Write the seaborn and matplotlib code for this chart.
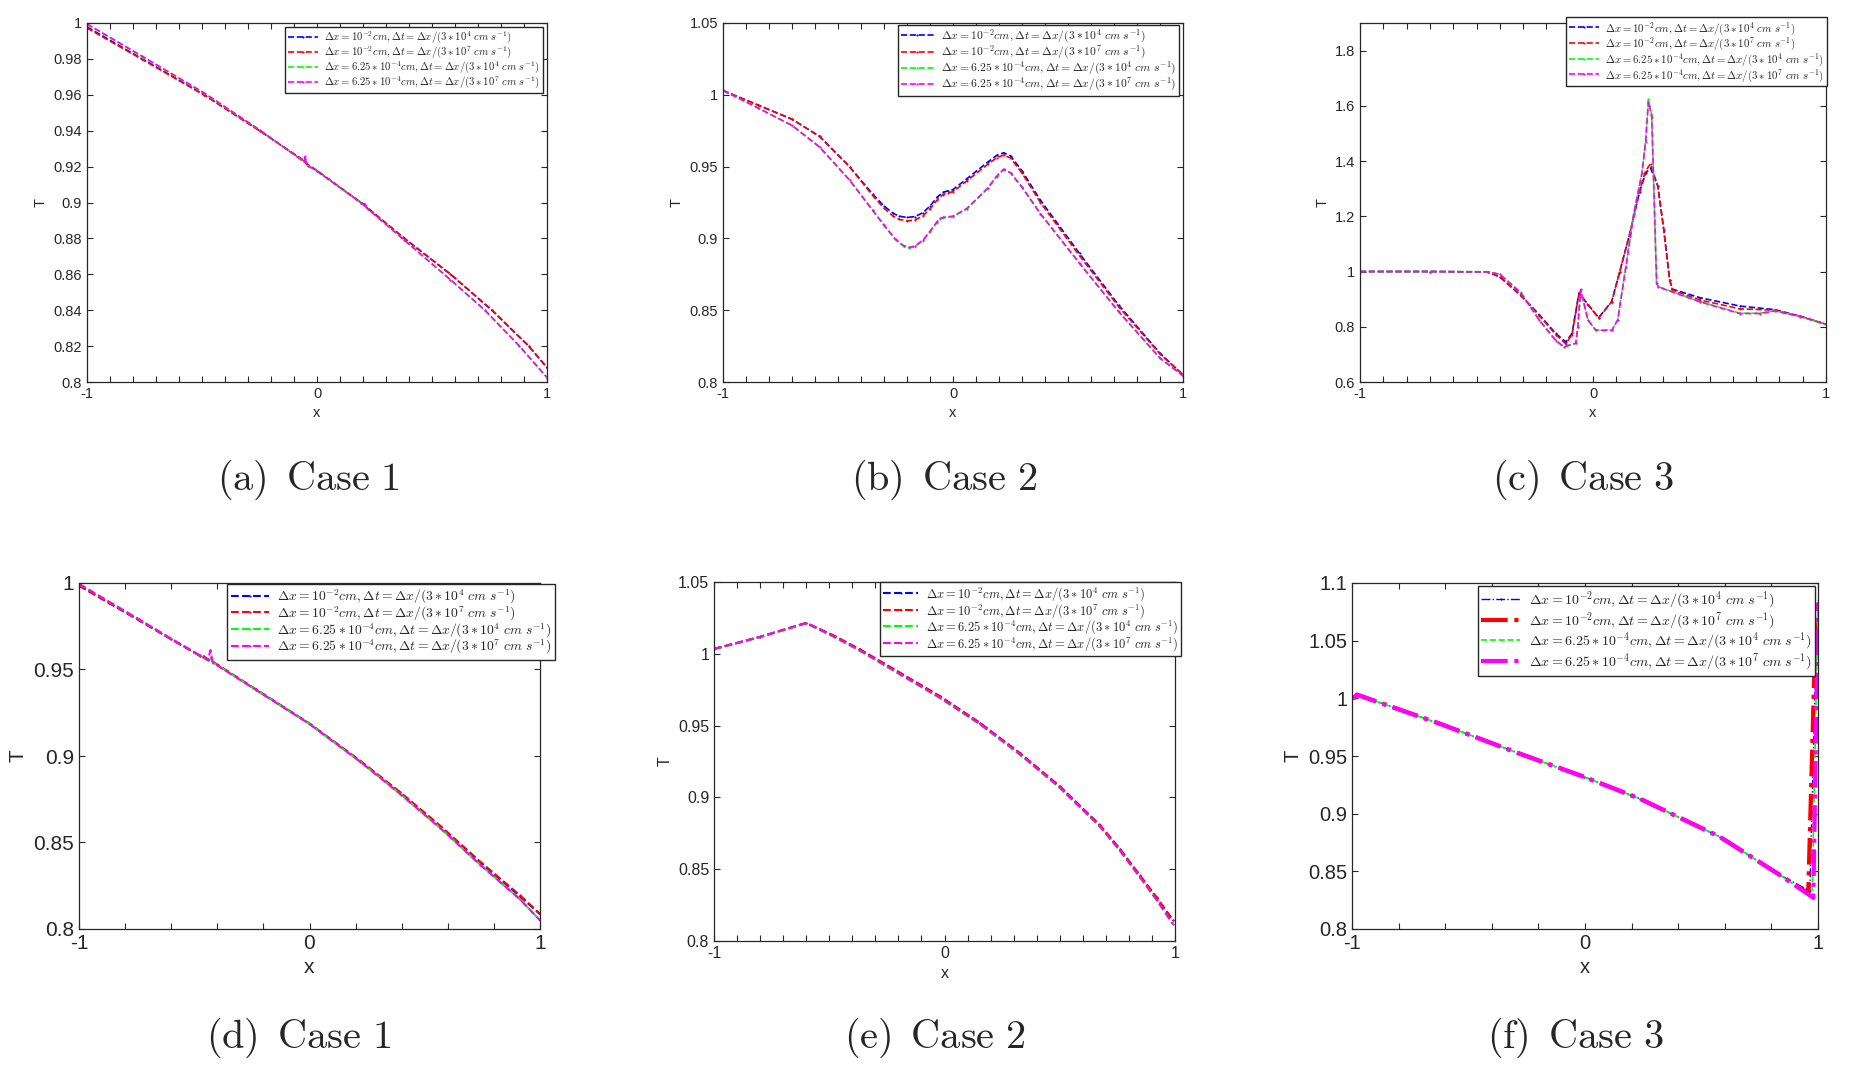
import numpy as np
import pandas as pd
import matplotlib
matplotlib.use("Agg")
import matplotlib.pyplot as plt
from matplotlib.ticker import MultipleLocator, FuncFormatter
import seaborn as sns

# ---- data ----
# (a) case 1, top row
xa_coarse = [-1, -0.76, -0.49, -0.25, -0.07, -0.055, -0.045, 0.0, 0.19, 0.205, 0.215, 0.38, 0.58, 0.76, 0.92, 1.0]
Ta_blue = [0.9978, 0.9800, 0.9600, 0.9400, 0.9245, 0.9232, 0.9215, 0.9178, 0.9000, 0.8990, 0.8975, 0.8800, 0.8600, 0.8400, 0.8200, 0.8080]
Ta_red = [0.9972, 0.9797, 0.9598, 0.9400, 0.9243, 0.9230, 0.9213, 0.9177, 0.9000, 0.8988, 0.8973, 0.8800, 0.8602, 0.8402, 0.8202, 0.8082]
xa_fine = [-1, -0.76, -0.49, -0.25, -0.07, -0.055, -0.052, -0.048, -0.04, 0.0, 0.19, 0.205, 0.21, 0.22, 0.38, 0.58, 0.73, 0.88, 1.0]
Ta_green = [0.9993, 0.9813, 0.9608, 0.9404, 0.9240, 0.9230, 0.9240, 0.9225, 0.9205, 0.9175, 0.9000, 0.8985, 0.8983, 0.8965, 0.8790, 0.8570, 0.8400, 0.8200, 0.8025]
Ta_magenta = [0.9995, 0.9815, 0.9610, 0.9405, 0.9240, 0.9230, 0.9260, 0.9225, 0.9205, 0.9175, 0.9000, 0.8985, 0.8990, 0.8965, 0.8790, 0.8570, 0.8400, 0.8200, 0.8025]

# (b) case 2, top row
xb_coarse = [-1, -0.85, -0.70, -0.58, -0.45, -0.35, -0.30, -0.26, -0.235, -0.20, -0.165, -0.13, -0.10, -0.07, -0.045, -0.02, 0.0, 0.06, 0.15, 0.19, 0.22, 0.25, 0.30, 0.38, 0.55, 0.72, 0.90, 1.0]
Tb_blue = [1.003, 0.993, 0.983, 0.971, 0.950, 0.931, 0.9225, 0.9175, 0.9155, 0.9146, 0.9152, 0.9180, 0.9225, 0.9285, 0.9320, 0.9332, 0.9340, 0.9415, 0.9530, 0.9578, 0.9596, 0.9575, 0.9470, 0.9266, 0.8895, 0.8536, 0.8200, 0.8050]
Tb_red = [1.003, 0.993, 0.983, 0.971, 0.950, 0.930, 0.9210, 0.9155, 0.9133, 0.9122, 0.9128, 0.9158, 0.9205, 0.9265, 0.9305, 0.9318, 0.9325, 0.9400, 0.9515, 0.9562, 0.9580, 0.9560, 0.9455, 0.9250, 0.8880, 0.8525, 0.8195, 0.8050]
xb_fine = [-1, -0.85, -0.70, -0.58, -0.45, -0.35, -0.30, -0.25, -0.215, -0.19, -0.165, -0.13, -0.10, -0.07, -0.055, -0.045, 0.0, 0.06, 0.15, 0.19, 0.22, 0.25, 0.30, 0.38, 0.55, 0.72, 0.90, 1.0]
Tb_green = [1.003, 0.991, 0.9785, 0.9635, 0.9405, 0.9195, 0.9090, 0.8990, 0.8945, 0.8932, 0.8942, 0.8985, 0.9045, 0.9110, 0.9135, 0.9142, 0.9152, 0.9205, 0.9345, 0.9430, 0.9478, 0.9455, 0.9355, 0.9170, 0.8825, 0.8489, 0.8165, 0.8042]
Tb_magenta = [1.003, 0.991, 0.9787, 0.9637, 0.9407, 0.9198, 0.9093, 0.8994, 0.8950, 0.8937, 0.8947, 0.8990, 0.9050, 0.9115, 0.9140, 0.9146, 0.9155, 0.9208, 0.9348, 0.9434, 0.9482, 0.9458, 0.9358, 0.9173, 0.8828, 0.8491, 0.8167, 0.8043]

# (c) case 3, top row
xc_coarse = [-1, -0.7, -0.45, -0.40, -0.31, -0.23, -0.16, -0.117, -0.09, -0.06, -0.02, 0.024, 0.08, 0.115, 0.158, 0.20, 0.226, 0.247, 0.278, 0.304, 0.329, 0.341, 0.46, 0.63, 0.78, 0.89, 1.0]
Tc_blue = [1.0, 1.0, 0.998, 0.981, 0.915, 0.843, 0.776, 0.745, 0.776, 0.923, 0.879, 0.833, 0.891, 1.0, 1.138, 1.289, 1.356, 1.375, 1.31, 1.15, 0.969, 0.936, 0.905, 0.875, 0.862, 0.838, 0.809]
Tc_red = [1.0, 1.0, 0.998, 0.980, 0.913, 0.840, 0.772, 0.738, 0.772, 0.920, 0.878, 0.832, 0.890, 1.0, 1.138, 1.295, 1.365, 1.39, 1.31, 1.15, 0.969, 0.933, 0.897, 0.865, 0.860, 0.838, 0.809]
xc_fine = [-1, -0.7, -0.45, -0.40, -0.31, -0.23, -0.16, -0.125, -0.074, -0.065, -0.053, -0.022, 0.012, 0.081, 0.106, 0.141, 0.175, 0.21, 0.226, 0.238, 0.252, 0.273, 0.281, 0.46, 0.63, 0.715, 0.78, 0.89, 1.0]
Tc_green = [1.0, 1.0, 0.999, 0.99, 0.925, 0.825, 0.752, 0.728, 0.74, 0.80, 0.933, 0.825, 0.788, 0.788, 0.825, 1.018, 1.211, 1.356, 1.476, 1.623, 1.567, 0.957, 0.945, 0.891, 0.849, 0.849, 0.858, 0.837, 0.809]
Tc_magenta = [1.0, 1.0, 0.999, 0.99, 0.923, 0.823, 0.750, 0.727, 0.74, 0.80, 0.935, 0.825, 0.787, 0.787, 0.825, 1.015, 1.208, 1.356, 1.47, 1.615, 1.56, 0.957, 0.944, 0.890, 0.848, 0.848, 0.857, 0.837, 0.809]

# (d) case 1, bottom row
xd_coarse = [-1, -0.87, -0.74, -0.60, -0.476, -0.46, -0.45, -0.42, -0.233, 0.0, 0.219, 0.392, 0.566, 0.74, 0.913, 1.0]
Td_blue = [0.9985, 0.9885, 0.9785, 0.9675, 0.9580, 0.9575, 0.9562, 0.9545, 0.9385, 0.9187, 0.8972, 0.8790, 0.8595, 0.8385, 0.8190, 0.8085]
Td_red = [0.9985, 0.9885, 0.9785, 0.9675, 0.9580, 0.9580, 0.9567, 0.9545, 0.9385, 0.9187, 0.8973, 0.8792, 0.8598, 0.8390, 0.8195, 0.8088]
xd_fine = [-1, -0.87, -0.74, -0.60, -0.476, -0.44, -0.43, -0.42, -0.233, 0.0, 0.219, 0.392, 0.566, 0.74, 0.913, 1.0]
Td_green = [0.9995, 0.9892, 0.9790, 0.9678, 0.9582, 0.9555, 0.9568, 0.9543, 0.9383, 0.9185, 0.8968, 0.8782, 0.8585, 0.8372, 0.8172, 0.8050]
Td_magenta = [0.9995, 0.9892, 0.9790, 0.9678, 0.9582, 0.9555, 0.9612, 0.9540, 0.9383, 0.9185, 0.8968, 0.8782, 0.8585, 0.8372, 0.8172, 0.8050]

# (e) case 2, bottom row
xe_all = [-1, -0.80, -0.60, -0.48, -0.368, -0.194, -0.021, 0.153, 0.326, 0.50, 0.674, 0.76, 0.847, 0.92, 0.99]
Te_blue = [1.0034, 1.0118, 1.0215, 1.0125, 1.0030, 0.9867, 0.9704, 0.9518, 0.9308, 0.9075, 0.8805, 0.8640, 0.8455, 0.8300, 0.8145]
Te_red = [1.0034, 1.0118, 1.0215, 1.0127, 1.0032, 0.9869, 0.9706, 0.9520, 0.9310, 0.9078, 0.8808, 0.8644, 0.8460, 0.8305, 0.8148]
Te_green = [1.0032, 1.0116, 1.0212, 1.0117, 1.0020, 0.9855, 0.9692, 0.9508, 0.9298, 0.9065, 0.8795, 0.8630, 0.8444, 0.8285, 0.8120]
Te_magenta = [1.0033, 1.0117, 1.0213, 1.0121, 1.0025, 0.9860, 0.9697, 0.9513, 0.9303, 0.9070, 0.8799, 0.8633, 0.8447, 0.8288, 0.8120]

# (f) case 3, bottom row
xf_main = [-1, -0.99, -0.979, -0.623, -0.28, -0.005, 0.235, 0.578, 0.835]
Tf_main = [1.0, 1.0006, 1.0032, 0.978, 0.952, 0.932, 0.913, 0.880, 0.847]
xf_blue_end = [0.965, 0.99]
Tf_blue_end = [0.833, 1.03]
xf_red_end = [0.958, 0.99]
Tf_red_end = [0.831, 1.065]
xf_green_end = [0.975, 1.0]
Tf_green_end = [0.828, 1.085]
xf_magenta_end = [0.98, 1.0]
Tf_magenta_end = [0.827, 1.083]

labels = [
    r'$\Delta x = 10^{-2}cm, \Delta t = \Delta x/(3*10^4\ cm\ s^{-1})$',
    r'$\Delta x = 10^{-2}cm, \Delta t = \Delta x/(3*10^7\ cm\ s^{-1})$',
    r'$\Delta x = 6.25*10^{-4}cm, \Delta t = \Delta x/(3*10^4\ cm\ s^{-1})$',
    r'$\Delta x = 6.25*10^{-4}cm, \Delta t = \Delta x/(3*10^7\ cm\ s^{-1})$',
]
colors = ['#0000ff', '#ff0000', '#00ff00', '#ff00ff']
captions = ['(a)', '(b)', '(c)', '(d)', '(e)', '(f)']
cases = ['Case 1', 'Case 2', 'Case 3', 'Case 1', 'Case 2', 'Case 3']

sns.set_theme(style="ticks")
plt.rcParams['font.family'] = ['Liberation Sans', 'DejaVu Sans']
plt.rcParams['mathtext.fontset'] = 'cm'
plt.rcParams['axes.unicode_minus'] = False

W, H = 1852, 1084
fig = plt.figure(figsize=(W / 100, H / 100), dpi=100)


def px_axes(x0, y0, x1, y1):
    return fig.add_axes([x0 / W, 1 - y1 / H, (x1 - x0) / W, (y1 - y0) / H])


fmt = FuncFormatter(lambda v, p: f'{round(v, 4):g}')


def style_axes(ax, ylim, ystep, xminor, fs):
    ax.set_xlim(-1, 1)
    ax.set_ylim(*ylim)
    ax.xaxis.set_major_locator(MultipleLocator(1))
    ax.xaxis.set_minor_locator(MultipleLocator(xminor))
    ax.yaxis.set_major_locator(MultipleLocator(ystep))
    ax.yaxis.set_major_formatter(fmt)
    ax.xaxis.set_major_formatter(fmt)
    ax.tick_params(which='both', direction='in', top=True, right=True,
                   length=4, width=0.8, labelsize=fs, colors='#262626')
    for s in ax.spines.values():
        s.set_linewidth(0.9)
        s.set_color('#262626')
    ax.set_xlabel('x', fontsize=fs, color='#262626')
    ax.set_ylabel('T', fontsize=fs, color='#262626')


def add_legend(ax, corner, fs):
    ax.legend(loc='upper right', bbox_to_anchor=(corner[0] / W, 1 - corner[1] / H),
              bbox_transform=fig.transFigure, fontsize=fs, frameon=True,
              fancybox=False, framealpha=1, edgecolor='#262626',
              borderpad=0.25, labelspacing=-0.1, handlelength=2.8,
              handletextpad=0.6, borderaxespad=0)


def draw(ax, xs, ys, lw, ls, ms=3):
    for x, y, c, lab, w, st in zip(xs, ys, colors, labels, lw, ls):
        sns.lineplot(x=x, y=y, ax=ax, color=c, linewidth=w, linestyle=st,
                     marker='.', markersize=ms, markeredgewidth=0,
                     sort=False, estimator=None, label=lab)


# (a)
ax = px_axes(87, 23, 547, 382)
draw(ax, [xa_coarse, xa_coarse, xa_fine, xa_fine], [Ta_blue, Ta_red, Ta_green, Ta_magenta],
     [1.2] * 4, ['--'] * 4)
style_axes(ax, (0.8, 1.0), 0.02, 0.1, 10.5)
add_legend(ax, (543, 27), 7.7)

# (b)
ax = px_axes(723, 23, 1183, 382)
draw(ax, [xb_coarse, xb_coarse, xb_fine, xb_fine], [Tb_blue, Tb_red, Tb_green, Tb_magenta],
     [1.2] * 4, ['--'] * 4)
style_axes(ax, (0.8, 1.05), 0.05, 0.1, 10.5)
add_legend(ax, (1179, 25), 8.4)

# (c)
ax = px_axes(1360, 23, 1826, 382)
draw(ax, [xc_coarse, xc_coarse, xc_fine, xc_fine], [Tc_blue, Tc_red, Tc_green, Tc_magenta],
     [1.2] * 4, ['--'] * 4)
style_axes(ax, (0.6, 1.9), 0.2, 0.1, 10.5)
add_legend(ax, (1827, 17), 7.8)

# (d)
ax = px_axes(79, 583, 540, 929)
draw(ax, [xd_coarse, xd_coarse, xd_fine, xd_fine], [Td_blue, Td_red, Td_green, Td_magenta],
     [1.5] * 4, ['--'] * 4)
style_axes(ax, (0.8, 1.0), 0.05, 0.2, 15)
add_legend(ax, (555, 584), 9.8)

# (e)
ax = px_axes(714, 582, 1175, 941)
draw(ax, [xe_all] * 4, [Te_blue, Te_red, Te_green, Te_magenta],
     [1.5] * 4, ['--'] * 4)
style_axes(ax, (0.8, 1.05), 0.05, 0.1, 11.5)
add_legend(ax, (1181, 582), 9.0)

# (f)
ax = px_axes(1352, 583, 1818, 929)
draw(ax,
     [xf_main + xf_blue_end, xf_main + xf_red_end, xf_main + xf_green_end, xf_main + xf_magenta_end],
     [Tf_main + Tf_blue_end, Tf_main + Tf_red_end, Tf_main + Tf_green_end, Tf_main + Tf_magenta_end],
     [1.0, 3.0, 1.2, 3.0], ['-.', '-.', '--', '-.'])
style_axes(ax, (0.8, 1.1), 0.05, 0.2, 14.5)
add_legend(ax, (1815, 586), 10.1)

# sub-captions
cap_x = [308, 944, 1583, 299, 935, 1575]
cap_y = [480, 480, 480, 1038, 1038, 1038]
for cx, cy, c, t in zip(cap_x, cap_y, captions, cases):
    fig.text(cx / W, 1 - cy / H, r'$\mathrm{' + c + r'\enspace ' + t.replace(' ', r'\ ') + '}$',
             fontsize=29, ha='center', va='center')

fig.savefig('out.png', dpi=100)
